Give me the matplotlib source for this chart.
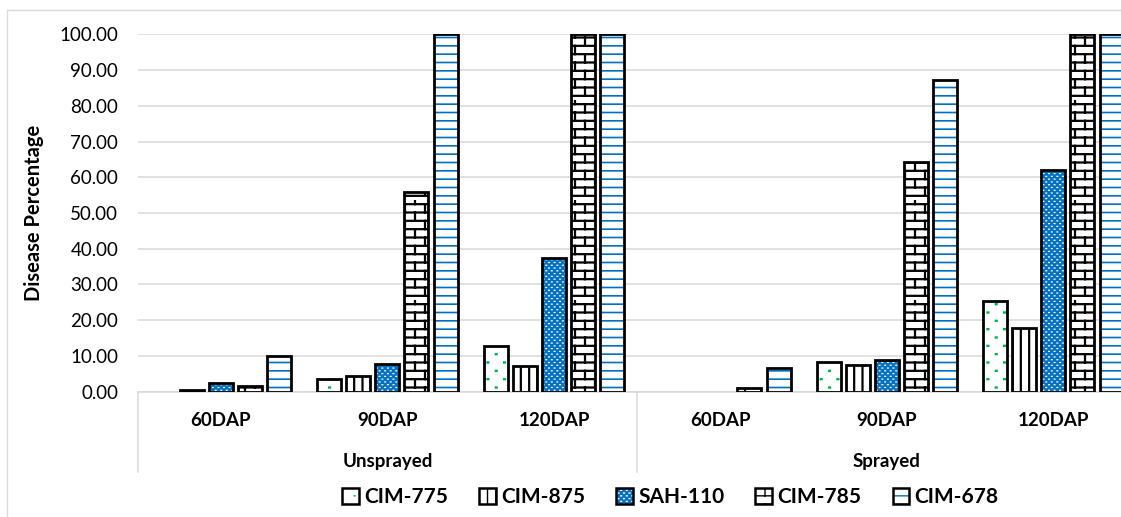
import warnings
import numpy as np
import matplotlib
matplotlib.use('Agg')
import matplotlib.pyplot as plt
import matplotlib.hatch as mhatch
from matplotlib.path import Path
from matplotlib.patches import Patch, Rectangle
from matplotlib.lines import Line2D

warnings.filterwarnings('ignore')

categories = ['60DAP', '90DAP', '120DAP', '60DAP', '90DAP', '120DAP']
groups = ['Unsprayed', 'Sprayed']
series = ['CIM-775', 'CIM-875', 'SAH-110', 'CIM-785', 'CIM-678']

cim775 = [0.0, 3.5, 12.8, 0.0, 8.4, 25.5]
cim875 = [0.6, 4.3, 7.3, 0.0, 7.6, 17.7]
sah110 = [2.4, 7.7, 37.3, 0.0, 8.8, 61.9]
cim785 = [1.5, 56.0, 100.0, 0.9, 64.3, 100.0]
cim678 = [10.0, 100.0, 100.0, 6.7, 87.2, 100.0]

yticks = np.arange(0, 101, 10)


# brick pattern, like the excel fill (no builtin hatch for it)
class BrickHatch(mhatch.HatchPatternBase):
    def __init__(self, hatch, density):
        self.num_rows = int(hatch.count('b') * density)
        self.num_vertices = self.num_rows * 12

    def set_vertices_and_codes(self, vertices, codes):
        step = 1.0 / self.num_rows
        k = 0
        for r in range(self.num_rows):
            y0 = (r + 0.5) * step
            vertices[k] = (0.0, y0)
            vertices[k + 1] = (1.0, y0)
            codes[k] = Path.MOVETO
            codes[k + 1] = Path.LINETO
            k += 2
            shift = 0.15 if r % 2 else 0.05
            for c in range(5):
                xv = shift + c * 0.2
                vertices[k] = (xv, y0)
                vertices[k + 1] = (xv, y0 + step)
                codes[k] = Path.MOVETO
                codes[k + 1] = Path.LINETO
                k += 2


# tiny square dots on a staggered grid ('g' = sparse, 'q' = dense)
class SquareDotHatch(mhatch.HatchPatternBase):
    def __init__(self, hatch, density):
        self.ncols = int(hatch.count('g') * density + hatch.count('q') * 3 * density)
        self.num_vertices = self.ncols * self.ncols * 2 * 2

    def set_vertices_and_codes(self, vertices, codes):
        if self.ncols == 0:
            return
        pitch = 1.0 / self.ncols
        seg = 0.008
        k = 0
        for r in range(2 * self.ncols):
            yv = (r + 0.5) * pitch / 2
            shift = pitch * 0.75 if r % 2 else pitch * 0.25
            for c in range(self.ncols):
                xv = shift + c * pitch
                vertices[k] = (xv, yv)
                vertices[k + 1] = (xv + seg, yv)
                codes[k] = Path.MOVETO
                codes[k + 1] = Path.LINETO
                k += 2


mhatch._hatch_types.append(BrickHatch)
mhatch._hatch_types.append(SquareDotHatch)

plt.rcParams['font.family'] = 'Lato'

BLUE = '#0070C0'
GRID = '#D9D9D9'
FS = 13.5

# face colour, hatch colour, hatch, hatch line width
styles = [
    ('white', '#00B050', 'g', 1.7),
    ('white', 'black', '||', 1.6),
    (BLUE, 'white', 'q', 0.9),
    ('white', 'black', 'bb', 1.6),
    ('white', BLUE, '--', 1.2),
]

values = [cim775, cim875, sah110, cim785, cim678]

W, H = 1121, 517
fig = plt.figure(figsize=(W / 100, H / 100), dpi=100)
left, right, top, bottom = 137.7, 1136.7, 34.3, 391.7
ax = fig.add_axes([left / W, 1 - bottom / H, (right - left) / W, (bottom - top) / H])

x = np.arange(len(categories))
step = 29 / 166.3
width = 24 / 166.3

handles = []
for i, (vals, (face, hcol, hatch, hlw)) in enumerate(zip(values, styles)):
    pos = x + (i - 2) * step
    vals = np.array(vals)
    with plt.rc_context({'hatch.linewidth': hlw}):
        ax.bar(pos, vals, width, color=face, edgecolor=hcol, hatch=hatch,
               linewidth=0, zorder=2)
        lws = np.where(vals > 0, 2.0, 0.0)
        ax.bar(pos, vals, width, fill=False, edgecolor='black', linewidth=lws,
               zorder=3)
        handles.append((Patch(facecolor=face, edgecolor=hcol, hatch=hatch, linewidth=0),
                        Patch(fill=False, edgecolor='black', linewidth=1.8)))

ax.set_xlim(-0.5, len(categories) - 0.5)
ax.set_ylim(0, 100)
ax.set_yticks(yticks)
ax.set_yticklabels(['%.2f' % v for v in yticks], fontsize=FS)
ax.tick_params(axis='y', length=0, pad=14)
ax.set_xticks([])
ax.grid(axis='y', color=GRID, linewidth=1.1, zorder=0)
ax.set_axisbelow(True)
for s in ['left', 'right', 'top']:
    ax.spines[s].set_visible(False)
ax.spines['bottom'].set_color(GRID)
ax.spines['bottom'].set_linewidth(1.1)

ax.set_ylabel('Disease Percentage', fontsize=14.5, fontweight='bold')
ax.yaxis.set_label_coords((44 - left) / (right - left), 0.5)

# two level category axis
trans = ax.get_xaxis_transform()
for xi, lab in zip(x, categories):
    ax.text(xi, -(420 - bottom) / (bottom - top), lab, transform=trans,
            ha='center', va='center', fontsize=FS, fontweight='bold')
n = len(categories) // len(groups)
for g, lab in enumerate(groups):
    ax.text(g * n + (n - 1) / 2, -(462 - bottom) / (bottom - top), lab,
            transform=trans, ha='center', va='center', fontsize=FS,
            fontweight='bold')
for g in range(len(groups) + 1):
    ax.add_line(Line2D([g * n - 0.5, g * n - 0.5], [0, -(472 - bottom) / (bottom - top)],
                       transform=trans, color=GRID, linewidth=1.1, clip_on=False))

# chart area border
fig.patches.append(Rectangle((7 / W, 1 - 530 / H), 1200 / W, 520 / H,
                             transform=fig.transFigure, fill=False,
                             edgecolor=GRID, linewidth=1.0))

fig.legend(handles, series, loc='center', bbox_to_anchor=(0.598, 1 - 497 / H),
           ncol=5, frameon=False, prop={'weight': 'bold', 'size': 15},
           handlelength=0.8, handleheight=0.8, handletextpad=0.25,
           columnspacing=1.5)

fig.savefig('out.png', dpi=100)
